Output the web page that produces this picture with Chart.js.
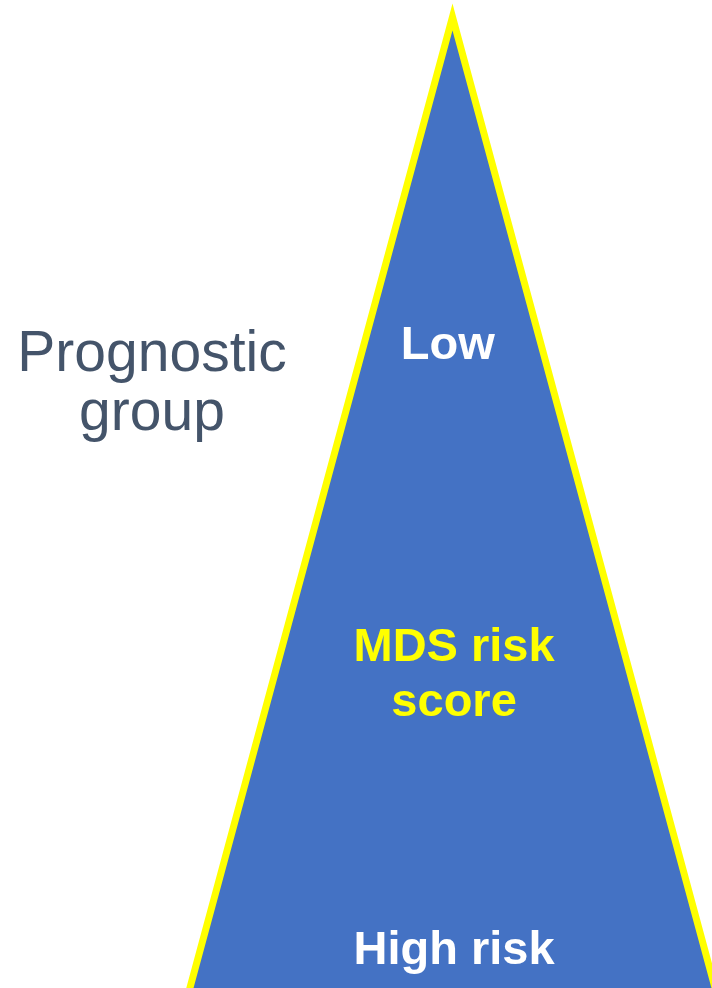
<!DOCTYPE html>
<html>
<head>
<meta charset="utf-8">
<title>Prognostic group</title>
<script src="https://cdn.jsdelivr.net/npm/chart.js@4"></script>
<style>
    html, body { margin: 0; padding: 0; background: #ffffff; }
    #wrap { position: relative; width: 712px; height: 988px; overflow: hidden; }
    #side {
        position: absolute; left: 0; top: 322px; width: 304px;
        text-align: center; color: #44546A;
        font-family: "Liberation Sans", Arial, sans-serif;
        font-size: 57px; line-height: 59px;
    }
</style>
</head>
<body>
<div id="wrap">
    <canvas id="chart" width="712" height="988"></canvas>
    <div id="side">Prognostic<br>group</div>
</div>
<script>
"use strict";

// sides of the triangle: left base corner, apex (low risk), right base corner
const shapeX = [-1, 0, 1];
const shapeY = [0, 1, 0];
// the base edge (high risk)
const baseX = [-1, 1];
const baseY = [0, 0];

const riskLabels = [["Low"], ["MDS risk", "score"], ["High risk"]];

const blue = "#4472C4";
const yellow = "#FFFF00";

// where each label sits, in the chart's own units
const labelSpots = [
    { x: -0.018, y: 0.648, color: "#ffffff" },
    { x: 0.006, y: 0.3381, color: yellow },
    { x: 0.006, y: 0.0259, color: "#ffffff" }
];
const lineStep = 0.0569;

const labelPlugin = {
    id: "riskLabels",
    afterDatasetsDraw(chart){
        const ctx = chart.ctx;
        const xs = chart.scales.x;
        const ys = chart.scales.y;
        ctx.save();
        ctx.font = "bold 47px 'Liberation Sans', Arial, sans-serif";
        ctx.textAlign = "center";
        ctx.textBaseline = "alphabetic";
        riskLabels.forEach(function(lines, i){
            let spot = labelSpots[i];
            ctx.fillStyle = spot.color;
            lines.forEach(function(txt, j){
                ctx.fillText(txt, xs.getPixelForValue(spot.x), ys.getPixelForValue(spot.y - j * lineStep));
            });
        });
        ctx.restore();
    }
};

function toPoints(xs, ys){
    return xs.map(function(x, i){ return { x: x, y: ys[i] }; });
}

new Chart(document.getElementById("chart"), {
    type: "line",
    data: {
        datasets: [{
            data: toPoints(shapeX, shapeY),
            fill: { value: 0 },
            backgroundColor: blue,
            borderColor: yellow,
            borderWidth: 7,
            borderJoinStyle: "miter",
            tension: 0,
            pointRadius: 0,
            pointHoverRadius: 0
        },
        {
            data: toPoints(baseX, baseY),
            fill: false,
            borderColor: yellow,
            borderWidth: 7,
            tension: 0,
            pointRadius: 0,
            pointHoverRadius: 0
        }]
    },
    options: {
        responsive: false,
        devicePixelRatio: 1,
        animation: false,
        events: [],
        layout: { padding: 0 },
        scales: {
            x: { type: "linear", min: -1.7205, max: 0.9867, display: false },
            y: { type: "linear", min: 0.00154, max: 1.01748, display: false }
        },
        plugins: {
            legend: { display: false },
            tooltip: { enabled: false }
        }
    },
    plugins: [labelPlugin]
});
</script>
</body>
</html>
